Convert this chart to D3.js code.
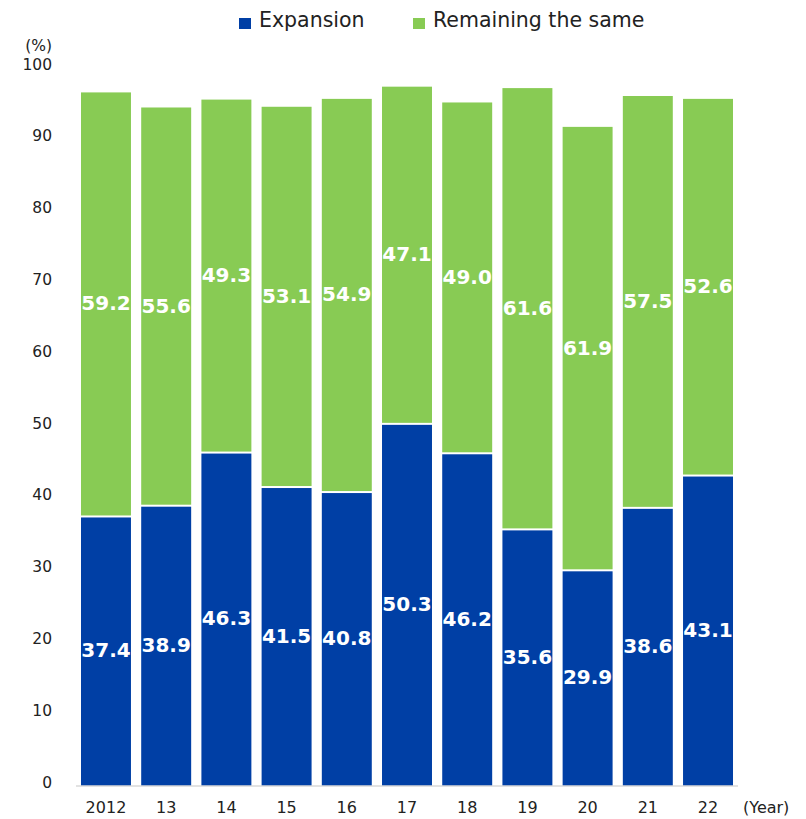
<!DOCTYPE html>
<html><head><meta charset="utf-8">
<script src="https://cdn.jsdelivr.net/npm/d3@7"></script>
<style>body{margin:0;background:#fff}svg{display:block}text{font-family:"DejaVu Sans",Verdana,sans-serif}</style>
</head><body>
<script>
const categories = ["2012","13","14","15","16","17","18","19","20","21","22"];
const expansion = [37.4,38.9,46.3,41.5,40.8,50.3,46.2,35.6,29.9,38.6,43.1];
const remaining = [59.2,55.6,49.3,53.1,54.9,47.1,49.0,61.6,61.9,57.5,52.6];
const seriesNames = ["Expansion","Remaining the same"];
const yTicks = [0,10,20,30,40,50,60,70,80,90,100];
const colors = ["#003fa5","#88cb54"];

const W = 806, H = 819;
const svg = d3.select("body").append("svg").attr("width",W).attr("height",H);
const x = d3.scaleBand().domain(categories).range([76,738]).paddingInner(0.17).paddingOuter(0.083);
const y = d3.scaleLinear().domain([0,100]).range([786,68]);

// y tick labels
svg.append("g").selectAll("text").data(yTicks).join("text")
  .attr("x",52).attr("y",d=>y(d)-3).attr("text-anchor","end").attr("dominant-baseline","middle")
  .attr("font-size",15.5).attr("fill","#222").text(d=>d);
svg.append("text").attr("x",52).attr("y",46).attr("text-anchor","end").attr("font-size",15.5).attr("fill","#222")
  .attr("dominant-baseline","middle").text("(%)");

// bars
const data = categories.map((c,i)=>({c, e:expansion[i], r:remaining[i]}));
const g = svg.append("g");
g.selectAll("rect.e").data(data).join("rect").attr("class","e")
  .attr("x",d=>x(d.c)).attr("width",x.bandwidth())
  .attr("y",d=>y(d.e)).attr("height",d=>y(0)-y(d.e))
  .attr("fill",colors[0]);
g.selectAll("rect.r").data(data).join("rect").attr("class","r")
  .attr("x",d=>x(d.c)).attr("width",x.bandwidth())
  .attr("y",d=>y(d.e+d.r)).attr("height",d=>y(d.e)-y(d.e+d.r)-2)
  .attr("fill",colors[1]);

// axis line
svg.append("line").attr("x1",76).attr("x2",738).attr("y1",y(0)).attr("y2",y(0))
  .attr("stroke","#d9d9d9").attr("stroke-width",1.5);

// value labels
g.selectAll("text.le").data(data).join("text").attr("class","le")
  .attr("x",d=>x(d.c)+x.bandwidth()/2).attr("y",d=>y(d.e/2))
  .attr("text-anchor","middle").attr("dominant-baseline","middle")
  .attr("font-size",20).attr("font-weight","bold").attr("fill","#fff").text(d=>d.e.toFixed(1));
g.selectAll("text.lr").data(data).join("text").attr("class","lr")
  .attr("x",d=>x(d.c)+x.bandwidth()/2).attr("y",d=>y(d.e+d.r/2))
  .attr("text-anchor","middle").attr("dominant-baseline","middle")
  .attr("font-size",20).attr("font-weight","bold").attr("fill","#fff").text(d=>d.r.toFixed(1));

// x labels
svg.append("g").selectAll("text").data(categories).join("text")
  .attr("x",d=>x(d)+x.bandwidth()/2).attr("y",808).attr("text-anchor","middle")
  .attr("dominant-baseline","middle").attr("font-size",16).attr("fill","#222").text(d=>d);
svg.append("text").attr("x",743).attr("y",808).attr("dominant-baseline","middle")
  .attr("font-size",16).attr("fill","#222").text("(Year)");

// legend
const legX = [239,413];
seriesNames.forEach((n,i)=>{
  svg.append("rect").attr("x",legX[i]).attr("y",18).attr("width",12).attr("height",11).attr("fill",colors[i]);
  svg.append("text").attr("x",legX[i]+20).attr("y",21).attr("dominant-baseline","middle")
    .attr("font-size",20.5).attr("fill","#222").text(n);
});
</script>
</body></html>
